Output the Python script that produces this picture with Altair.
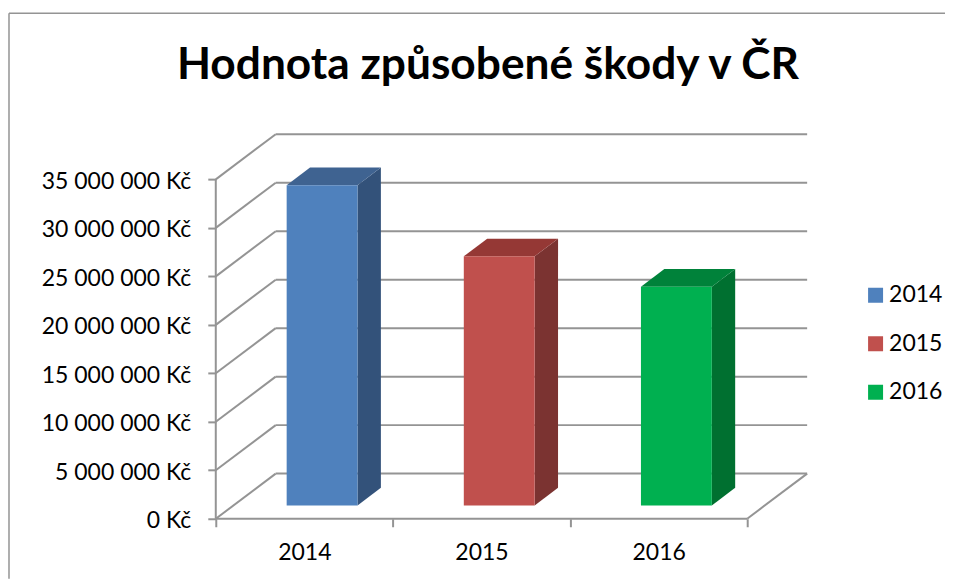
import altair as alt
import pandas as pd

years = ["2014", "2015", "2016"]
damages = [33030000, 25690000, 22560000]
front_colors = ["#4F81BD", "#C0504D", "#00B050"]
side_colors = ["#33527A", "#7B3331", "#007030"]
top_colors = ["#3F6391", "#953835", "#00823A"]
y_ticks = [0, 5000000, 10000000, 15000000, 20000000, 25000000, 30000000, 35000000]
x_ticks = [0, 1, 2, 3]

# oblique projection of the 3-D box, in data units
DX = 0.3383        # one full depth, in categories
DY = 4657000       # one full depth, in Kč
BAR_W = 0.4
BAR_DEPTH0 = 0.296
BAR_DEPTH = 0.39
GREY = "#949494"
FONT = "Lato"

x_scale = alt.Scale(domain=[0, 3.344], nice=False, zero=False)
y_scale = alt.Scale(domain=[0, 39870000], nice=False, zero=False)

# axes (ticks and labels only)
axes = alt.Chart(pd.DataFrame({"x": x_ticks, "y": [0, 0, 0, 0]})).mark_point(opacity=0).encode(
    x=alt.X("x:Q", scale=x_scale, title=None, axis=alt.Axis(
        values=x_ticks, domain=False, grid=False, tickSize=8, tickColor=GREY, tickWidth=2,
        labelExpr="datum.value == 3 ? '' : '' + (2014 + datum.value)",
        labelOffset=88.67, labelFont=FONT, labelFontSize=23, labelColor="#000000",
        labelPadding=15, labelFlush=False, labelOverlap=False, labelBound=False)),
    y=alt.Y("y:Q", scale=y_scale, title=None, axis=alt.Axis(
        values=y_ticks, domain=False, grid=False, tickSize=8, tickColor=GREY, tickWidth=2,
        labelExpr="replace(format(datum.value, ','), /,/g, ' ') + ' Kč'",
        labelFont=FONT, labelFontSize=23, labelColor="#000000", labelPadding=17, labelOffset=2,
        labelOverlap=False, labelBound=False)),
)

# walls and floor
seg = []
for v in y_ticks:
    seg.append(dict(x=0, x2=DX, y=v, y2=v + DY))
    seg.append(dict(x=DX, x2=3 + DX, y=v + DY, y2=v + DY))
seg.append(dict(x=0, x2=0, y=0, y2=35000000))
seg.append(dict(x=0, x2=3, y=0, y2=0))
seg.append(dict(x=3, x2=3 + DX, y=0, y2=DY))
walls = alt.Chart(pd.DataFrame(seg)).mark_rule(color=GREY, strokeWidth=2).encode(
    x=alt.X("x:Q", scale=x_scale),
    x2="x2:Q",
    y=alt.Y("y:Q", scale=y_scale),
    y2="y2:Q",
)

layers = [axes, walls]

base_x = BAR_DEPTH0 * DX
base_y = BAR_DEPTH0 * DY
dx = BAR_DEPTH * DX
dy = BAR_DEPTH * DY

fronts = []
for i, (yr, v) in enumerate(zip(years, damages)):
    x0 = i + 0.5 - BAR_W / 2 + base_x
    x1 = x0 + BAR_W
    b = base_y
    t = base_y + v
    fronts.append(dict(year=yr, x=x0, x2=x1, y=b, y2=t))
    side = pd.DataFrame([
        dict(x=x1, y=b, y2=t),
        dict(x=x1 + dx, y=b + dy, y2=t + dy),
    ])
    layers.append(alt.Chart(side).mark_area(color=side_colors[i], line=False).encode(
        x=alt.X("x:Q", scale=x_scale),
        y=alt.Y("y:Q", scale=y_scale),
        y2="y2:Q",
    ))
    top = pd.DataFrame([
        dict(x=x0, y=t, y2=t),
        dict(x=x0 + dx, y=t, y2=t + dy),
        dict(x=x1, y=t, y2=t + dy),
        dict(x=x1 + dx, y=t + dy, y2=t + dy),
    ])
    layers.append(alt.Chart(top).mark_area(color=top_colors[i], line=False).encode(
        x=alt.X("x:Q", scale=x_scale),
        y=alt.Y("y:Q", scale=y_scale),
        y2="y2:Q",
    ))

front = alt.Chart(pd.DataFrame(fronts)).mark_rect().encode(
    x=alt.X("x:Q", scale=x_scale),
    x2="x2:Q",
    y=alt.Y("y:Q", scale=y_scale),
    y2="y2:Q",
    color=alt.Color("year:N", scale=alt.Scale(domain=years, range=front_colors), legend=alt.Legend(
        title=None, orient="none", legendX=649, legendY=151, symbolType="square", symbolSize=225,
        symbolStrokeWidth=0, labelFont=FONT, labelFontSize=23, labelColor="#000000", rowPadding=23.5,
        labelOffset=2, padding=0, clipHeight=24.5)),
)
layers.append(front)

# the frame of the original picture
frame_top = alt.Chart(pd.DataFrame({"k": [0]})).mark_rule(color=GREY, strokeWidth=1.5, clip=False).encode(
    x=alt.value(-207), x2=alt.value(730), y=alt.value(-119))
frame_left = alt.Chart(pd.DataFrame({"k": [0]})).mark_rule(color=GREY, strokeWidth=1.5, clip=False).encode(
    x=alt.value(-207), y=alt.value(-119), y2=alt.value(447))
layers += [frame_top, frame_left]

chart = alt.layer(*layers).properties(
    width=593,
    height=387,
    title=alt.TitleParams(
        "Hodnota způsobené škody v ČR", font=FONT, fontSize=44.3, fontWeight="bold",
        color="#000000", anchor="middle", dx=-24, offset=-76),
    autosize=alt.AutoSizeParams(type="pad"),
    padding={"left": 0, "top": 4, "right": 0, "bottom": 0},
).configure_view(stroke=None)

chart.save("out.html", embed_options={"renderer": "svg", "actions": False})
